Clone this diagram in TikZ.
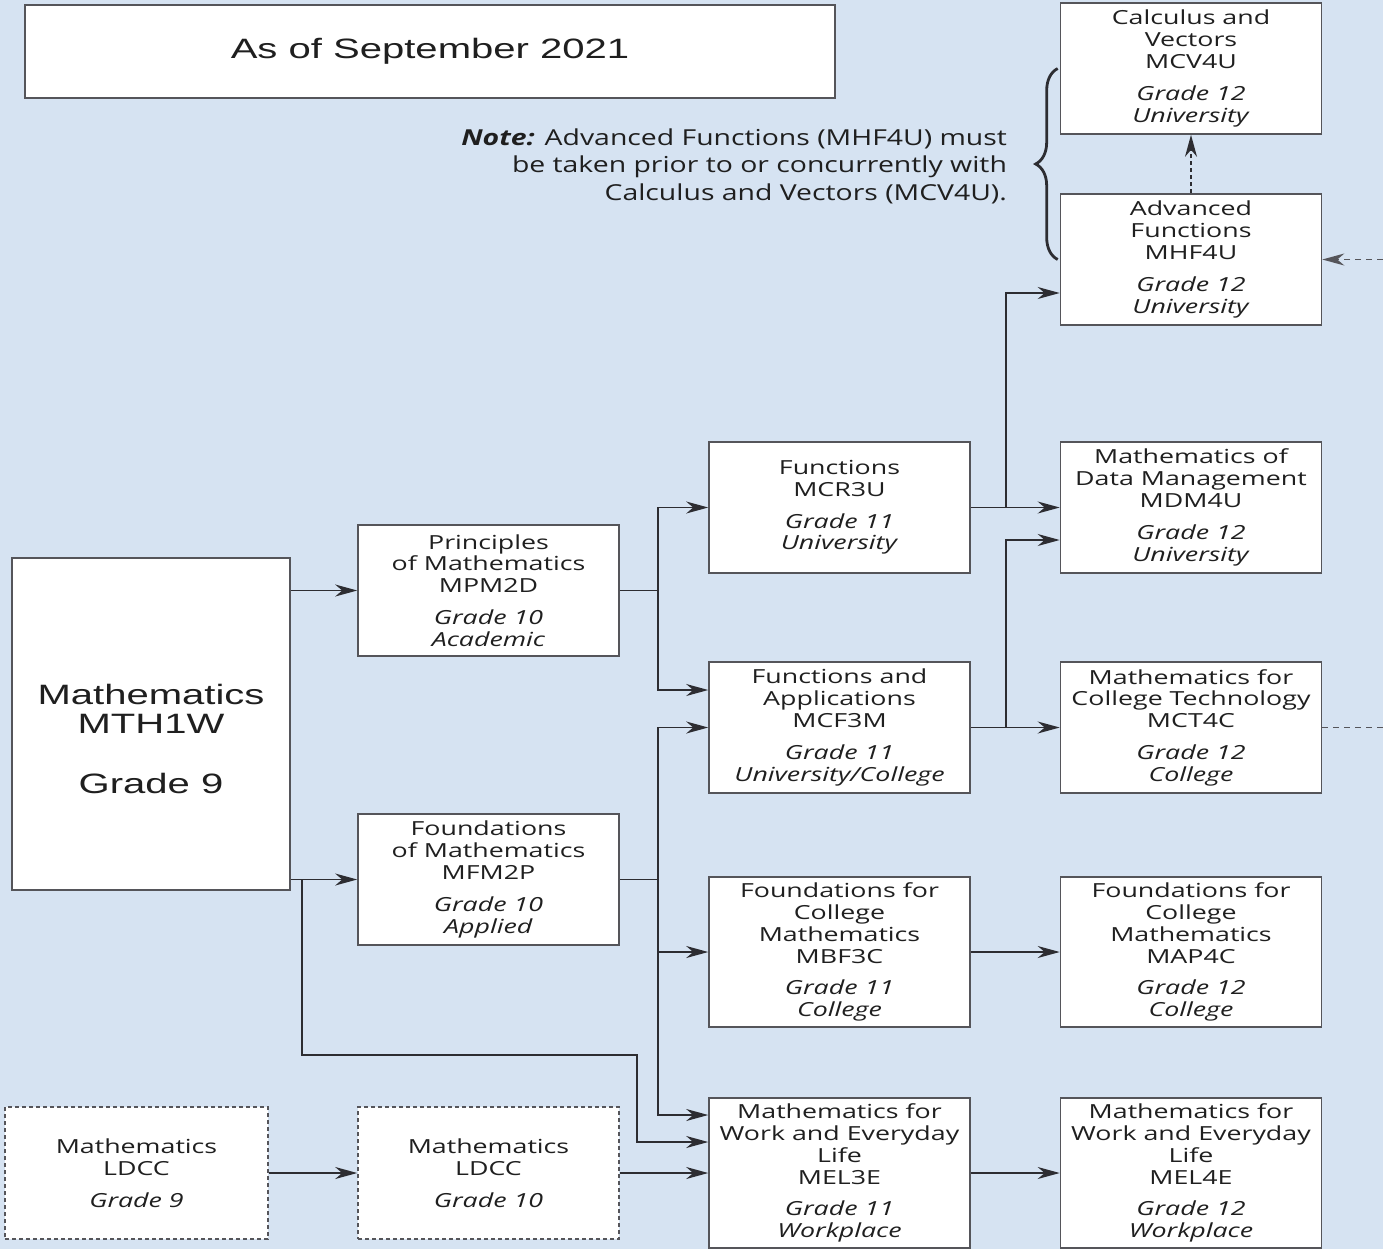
\documentclass[tikz,border=0pt]{standalone}
\usepackage{fontspec}
\setmainfont{Open Sans}[FakeStretch=1.38]
\newfontfamily\arialfont{Liberation Sans}[FakeStretch=1.43]
\newfontfamily\notefont{Open Sans}[FakeStretch=1.29]
\usetikzlibrary{arrows.meta,calc,decorations.pathreplacing,positioning}
\definecolor{bgblue}{RGB}{214,227,242}
\definecolor{boxgray}{RGB}{85,85,90}
\definecolor{linegray}{RGB}{45,45,50}
\tikzset{>={Stealth[length=11pt,width=6pt,inset=3.5pt]}}
\tikzset{course/.style={draw=boxgray,fill=white,line width=0.8pt,minimum width=130.5pt,minimum height=65.5pt,inner sep=0pt,align=center,font=\fontsize{9.7}{10.9}\selectfont,text=black!88}}
\tikzset{tallcourse/.style={course,minimum height=75pt}}
\tikzset{locdev/.style={course,dashed,dash pattern=on 2pt off 1.5pt,minimum height=66pt}}
\tikzset{plain/.style={draw=linegray,line width=0.8pt}}
\tikzset{link/.style={plain,->}}
\tikzset{curly/.style={decorate,decoration={brace,amplitude=11pt},line width=1.4pt,draw=linegray}}
\newcommand{\grd}[2]{\\[5pt]\textit{#1}\\\textit{#2}}

\begin{document}
\begin{tikzpicture}[x=0.5pt,y=-0.5pt]
    \useasboundingbox[fill=bgblue] (0,0) rectangle (1383,1249);
    % header and note
    \node[draw=boxgray,fill=white,line width=0.8pt,minimum width=405pt,minimum height=46.5pt,font=\arialfont\fontsize{14}{16}\selectfont,text=black!88] (title) at (430,51.5) {As of September 2021};
    \node[align=right,anchor=east,font=\notefont\fontsize{11}{13.75}\selectfont,text=black!88] (note) at (1014,166) {\textbf{\textit{Note:}} Advanced Functions (MHF4U) must\\be taken prior to or concurrently with\\Calculus and Vectors (MCV4U).};
    % grade 9 and 10
    \node[draw=boxgray,fill=white,line width=0.8pt,minimum width=139pt,minimum height=166pt] (mth1w) at (151,724) {};
    \node[align=center,font=\arialfont\fontsize{14}{14.5}\selectfont,text=black!88] (mth1wtext) at ([yshift=-7.5pt]mth1w.center) {Mathematics\\MTH1W\\[15.5pt]Grade 9};
    \node[course] (mpm2d) at (488.5,590.5) {Principles\\of Mathematics\\MPM2D\grd{Grade 10}{Academic}};
    \node[course] (mfm2p) at (488.5,879.5) {Foundations\\of Mathematics\\MFM2P\grd{Grade 10}{Applied}};
    \node[locdev,minimum width=131.5pt] (ldcc9) at (136.5,1173) {Mathematics\\LDCC\\[5pt]\textit{Grade 9}};
    \node[locdev] (ldcc10) at (488.5,1173) {Mathematics\\LDCC\\[5pt]\textit{Grade 10}};
    % grade 11
    \node[course] (mcr3u) at (839.5,507.5) {Functions\\MCR3U\grd{Grade 11}{University}};
    \node[course] (mcf3m) at (839.5,727.5) {Functions and\\Applications\\MCF3M\grd{Grade 11}{University/College}};
    \node[tallcourse] (mbf3c) at (839.5,952) {Foundations for\\College\\Mathematics\\MBF3C\grd{Grade 11}{College}};
    \node[tallcourse] (mel3e) at (839.5,1173) {Mathematics for\\Work and Everyday\\Life\\MEL3E\grd{Grade 11}{Workplace}};
    % grade 12
    \node[course] (mcv4u) at (1191,68.5) {Calculus and\\Vectors\\MCV4U\grd{Grade 12}{University}};
    \node[course] (mhf4u) at (1191,259.5) {Advanced\\Functions\\MHF4U\grd{Grade 12}{University}};
    \node[course] (mdm4u) at (1191,507.5) {Mathematics of\\Data Management\\MDM4U\grd{Grade 12}{University}};
    \node[course] (mct4c) at (1191,727.5) {Mathematics for\\College Technology\\MCT4C\grd{Grade 12}{College}};
    \node[tallcourse] (map4c) at (1191,952) {Foundations for\\College\\Mathematics\\MAP4C\grd{Grade 12}{College}};
    \node[tallcourse] (mel4e) at (1191,1173) {Mathematics for\\Work and Everyday\\Life\\MEL4E\grd{Grade 12}{Workplace}};
    \coordinate (edgeA) at (1383,259.5);
    \coordinate (edgeB) at (1383,727.5);
    % connectors
    \draw[link] (mth1w.east |- mpm2d) -- (mpm2d);
    \draw[link] (mth1w.east |- mfm2p) -- (mfm2p);
    \draw[link] (mth1w.east |- mfm2p) ++(11,0) |- (637,1055) |- ([yshift=15.5pt]mel3e.west);
    \draw[plain] (mpm2d.east) -- ++(38,0) coordinate (jp);
    \draw[link] (jp) |- (mcr3u);
    \draw[link] (jp) |- ([yshift=18.75pt]mcf3m.west);
    \draw[plain] (mfm2p.east) -- ++(38,0) coordinate (jf);
    \draw[link] (jf) |- (mcf3m);
    \draw[link] (jf) |- (mbf3c);
    \draw[link] (jf) |- ([yshift=29pt]mel3e.west);
    \draw[link] (ldcc9) -- (ldcc10);
    \draw[link] (ldcc10) -- (mel3e);
    \draw[link] (mcr3u) -- (mdm4u);
    \draw[link] (mcr3u.east) ++(35,0) |- ([yshift=-16.75pt]mhf4u.west);
    \draw[link] (mcf3m) -- (mct4c);
    \draw[link] (mcf3m.east) ++(35,0) |- ([yshift=-16.25pt]mdm4u.west);
    \draw[link] (mbf3c) -- (map4c);
    \draw[link] (mel3e) -- (mel4e);
    \draw[link,dash pattern=on 2pt off 1.5pt] (mhf4u) -- (mcv4u);
    \draw[link,draw=boxgray,dash pattern=on 3pt off 2.5pt] (edgeA) -- (mhf4u);
    \draw[plain,draw=boxgray,dash pattern=on 3pt off 2.5pt] (mct4c) -- (edgeB);
    \draw[curly] ([xshift=-1pt]mhf4u.west) -- ([xshift=-1pt]mcv4u.west);
\end{tikzpicture}
\end{document}
